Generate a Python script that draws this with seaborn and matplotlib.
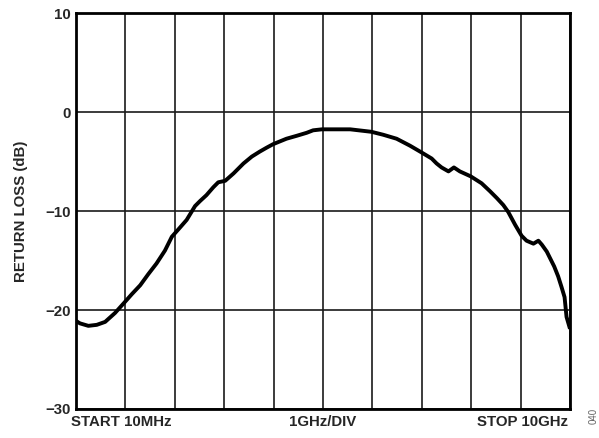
import matplotlib
matplotlib.use("Agg")
import matplotlib.pyplot as plt
import seaborn as sns
import pandas as pd
import numpy as np

# Return loss sweep, 10 MHz to 10 GHz (1 GHz/div)
freq_ghz = [0.0, 0.08, 0.25, 0.42, 0.59, 0.79, 0.97, 1.13, 1.3, 1.46, 1.63, 1.8,
            1.94, 2.1, 2.24, 2.41, 2.51, 2.64, 2.78, 2.88, 3.02, 3.19, 3.39, 3.56,
            3.72, 3.86, 3.99, 4.26, 4.47, 4.67, 4.8, 4.98, 5.55, 5.98, 6.22, 6.49,
            6.76, 7.0, 7.2, 7.3, 7.4, 7.54, 7.65, 7.77, 7.99, 8.21, 8.38, 8.52,
            8.65, 8.75, 8.89, 9.02, 9.12, 9.26, 9.36, 9.43, 9.53, 9.6, 9.68, 9.76,
            9.83, 9.89, 9.93, 10.0]
return_loss_db = [-21.1, -21.35, -21.6, -21.5, -21.2, -20.3, -19.3, -18.4, -17.5,
                  -16.4, -15.3, -14.0, -12.6, -11.7, -10.9, -9.5, -9.0, -8.4, -7.6,
                  -7.1, -6.95, -6.2, -5.2, -4.5, -4.0, -3.6, -3.25, -2.7, -2.4,
                  -2.1, -1.85, -1.75, -1.75, -2.0, -2.3, -2.7, -3.4, -4.1, -4.7,
                  -5.2, -5.6, -6.0, -5.6, -6.0, -6.5, -7.2, -8.0, -8.7, -9.4,
                  -10.1, -11.4, -12.5, -13.0, -13.3, -13.0, -13.4, -14.1, -14.8,
                  -15.6, -16.6, -17.7, -18.7, -20.7, -21.9]
y_ticks = [10, 0, -10, -20, -30]
y_tick_labels = ["10", "0", "\u221210", "\u221220", "\u221230"]
x_labels = ["START 10MHz", "1GHz/DIV", "STOP 10GHz"]

df = pd.DataFrame({"freq": freq_ghz, "rl": return_loss_db})

sns.set_style("white")
plt.rcParams["font.family"] = ["Liberation Sans", "DejaVu Sans"]

fig = plt.figure(figsize=(5.99, 4.38), dpi=100)
ax = fig.add_axes([76 / 599, 1 - 409 / 438, (570 - 76) / 599, (409 - 13) / 438])

sns.lineplot(data=df, x="freq", y="rl", ax=ax, color="black", linewidth=2.8,
             solid_capstyle="butt", solid_joinstyle="round", zorder=3)

ax.set_xlim(0, 10)
ax.set_ylim(-30, 10)
ax.set_xticks(np.arange(0, 11, 1))
ax.set_xticklabels([])
ax.set_yticks(y_ticks)
ax.set_yticklabels(y_tick_labels, fontsize=10.8, fontweight="bold")
ax.tick_params(axis="both", length=0, pad=4)
ax.grid(True, color="#1a1a1a", linewidth=1.2)
for s in ax.spines.values():
    s.set_visible(True)
    s.set_linewidth(2.0)
    s.set_color("black")
    s.set_zorder(4)

ax.set_xlabel("")
ax.set_ylabel("RETURN LOSS (dB)", fontsize=10.8, fontweight="bold", labelpad=12)

ax.text(-0.01, -0.016, x_labels[0], transform=ax.transAxes, ha="left", va="top",
        fontsize=10.8, fontweight="bold")
ax.text(0.5, -0.016, x_labels[1], transform=ax.transAxes, ha="center", va="top",
        fontsize=10.8, fontweight="bold")
ax.text(0.995, -0.016, x_labels[2], transform=ax.transAxes, ha="right", va="top",
        fontsize=10.8, fontweight="bold")

fig.text(594 / 599, 1 - 416 / 438, "040", rotation=90, ha="center", va="center",
         fontsize=7, color="#666666")

fig.savefig("out.png", dpi=100)
